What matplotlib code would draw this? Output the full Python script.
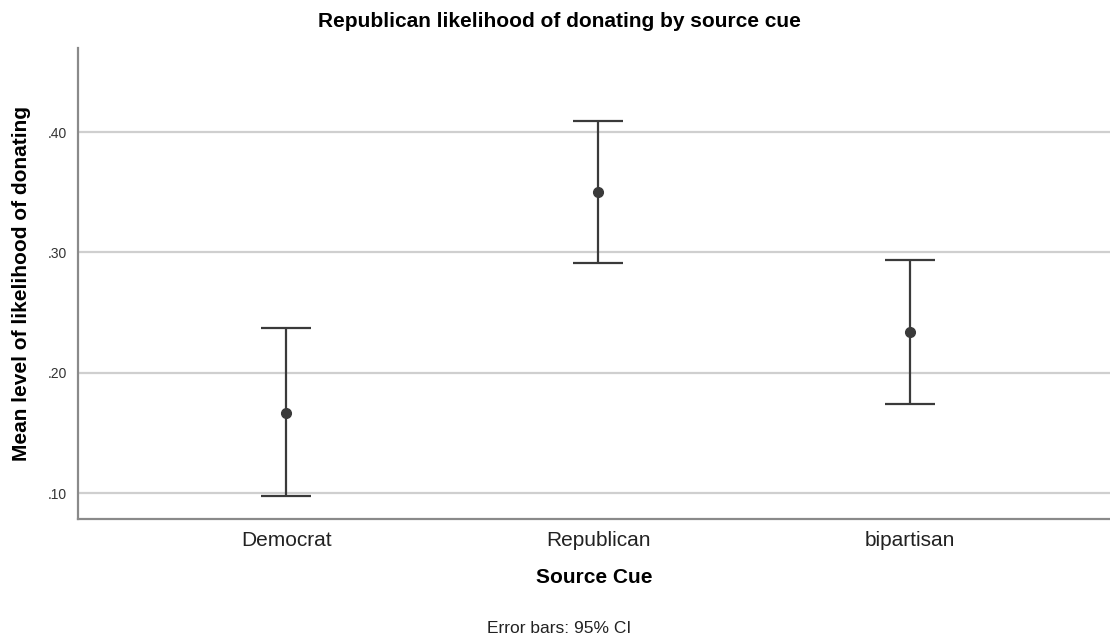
import numpy as np
import matplotlib.pyplot as plt

plt.rcParams['font.family'] = ['Liberation Sans', 'DejaVu Sans']

# data
categories = ['Democrat', 'Republican', 'bipartisan']
means = [0.167, 0.350, 0.234]
ci_low = [0.098, 0.291, 0.174]
ci_high = [0.237, 0.409, 0.294]
ytick_vals = [0.10, 0.20, 0.30, 0.40]
ytick_labels = ['.10', '.20', '.30', '.40']

x = np.arange(len(categories))
means_arr = np.array(means)
yerr = [means_arr - np.array(ci_low), np.array(ci_high) - means_arr]

fig = plt.figure(figsize=(11.1, 6.39), dpi=100)
ax = fig.add_axes([0.0703, 0.188, 0.9297, 0.737])

ax.set_ylim(0.0786, 0.470)
ax.set_xlim(-0.667, 2.641)
ax.set_yticks(ytick_vals)
ax.set_yticklabels(ytick_labels)
ax.set_xticks(x)
ax.set_xticklabels(categories)

ax.grid(axis='y', color='#cfcfcf', linewidth=1.6, zorder=0)
ax.set_axisbelow(True)

ax.errorbar(x, means, yerr=yerr, fmt='o', color='#3a3a3a', ecolor='#3a3a3a',
            elinewidth=1.6, capsize=18, capthick=1.6, markersize=7, zorder=3)

for s in ['top', 'right']:
    ax.spines[s].set_visible(False)
for s in ['left', 'bottom']:
    ax.spines[s].set_color('#8a8a8a')
    ax.spines[s].set_linewidth(1.6)

ax.tick_params(axis='both', length=0)
ax.tick_params(axis='y', labelsize=10, labelcolor='#333333', pad=8)
ax.tick_params(axis='x', labelsize=15, labelcolor='#222222', pad=9)

ax.set_ylabel('Mean level of likelihood of donating', fontsize=15,
              fontweight='bold', labelpad=12)
ax.set_xlabel('Source Cue', fontsize=15, fontweight='bold', labelpad=13)

fig.text(0.504, 0.967, 'Republican likelihood of donating by source cue',
         ha='center', va='center', fontsize=15, fontweight='bold')
fig.text(0.504, 0.017, 'Error bars: 95% CI', ha='center', va='center',
         fontsize=12.5, color='#222222')

fig.savefig('out.png', dpi=100)
